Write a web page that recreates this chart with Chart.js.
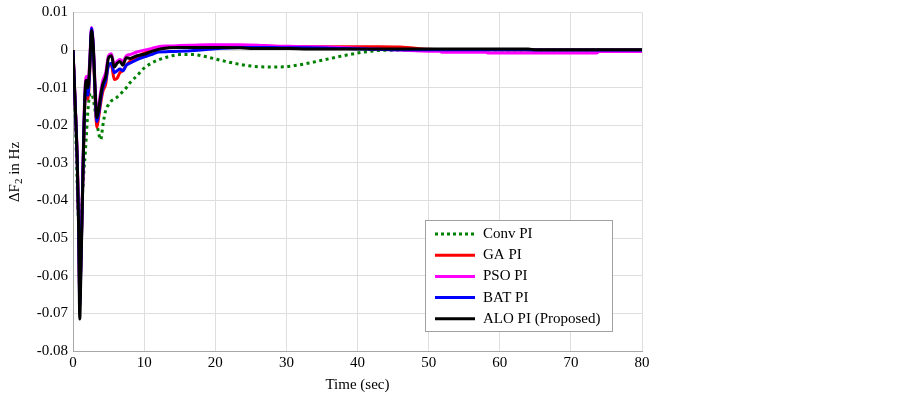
<!DOCTYPE html>
<html>
<head>
<meta charset="utf-8">
<title>Delta F2 response</title>
<script src="https://cdn.jsdelivr.net/npm/chart.js@4.4.0/dist/chart.umd.min.js"></script>
<style>
  html, body { margin: 0; padding: 0; background: #fff; }
  canvas { display: block; }
</style>
</head>
<body>
<canvas id="chart-df2" width="903" height="393"></canvas>
<script>
// time axis (sec) shared by all controllers
const timeSec = [0, 0.3, 0.6, 0.8, 0.95, 1.1, 1.3, 1.5, 1.7, 1.9,
  2.1, 2.35, 2.6, 2.85, 3.1, 3.35, 3.6, 3.9, 4.2, 4.6,
  5, 5.4, 5.8, 6.2, 6.6, 7, 7.5, 8, 9, 10,
  11, 12, 13.5, 15, 17, 19, 21, 23.5, 26, 28,
  30.5, 33, 36, 38.5, 41, 43, 46, 50, 51.5, 52,
  58, 58.5, 64, 65, 73.5, 74, 80];

// deviation of area-2 frequency (Hz)
const convPI = [0, -0.016, -0.036, -0.047, -0.051, -0.047, -0.040, -0.033, -0.028, -0.022,
  -0.016, -0.012, -0.0115, -0.013, -0.016, -0.019, -0.022, -0.0238, -0.020, -0.016,
  -0.0145, -0.0135, -0.013, -0.0125, -0.0118, -0.011, -0.010, -0.0087, -0.0068, -0.0048,
  -0.0035, -0.0026, -0.0017, -0.0012, -0.0012, -0.0019, -0.0028, -0.0038, -0.0044, -0.0045,
  -0.0043, -0.0035, -0.0023, -0.0013, -0.0005, -0.0001, 0, 0, 0, 0,
  0, 0, 0, 0, 0, 0, 0];

const gaPI = [0, -0.014, -0.029, -0.046, -0.066, -0.057, -0.041, -0.025, -0.013, -0.011,
  -0.013, -0.006, 0.0048, 0.0, -0.012, -0.0205, -0.018, -0.014, -0.011, -0.009,
  -0.004, -0.004, -0.0078, -0.0075, -0.006, -0.0055, -0.004, -0.003, -0.0018, -0.0008,
  -0.0002, 0.0004, 0.0007, 0.0009, 0.001, 0.0011, 0.0011, 0.001, 0.001, 0.001,
  0.0009, 0.0009, 0.0009, 0.0009, 0.0009, 0.0009, 0.0008, 0.0002, 0.0001, 0.0001,
  0.0001, 0.0001, 0, 0, 0, 0, 0];

const psoPI = [0, -0.014, -0.029, -0.046, -0.065, -0.056, -0.040, -0.022, -0.010, -0.007,
  -0.009, -0.003, 0.006, 0.0015, -0.009, -0.017, -0.015, -0.011, -0.008, -0.006,
  -0.0015, -0.001, -0.004, -0.003, -0.0025, -0.003, -0.0015, -0.0012, -0.0005, 0.0,
  0.0004, 0.0009, 0.0011, 0.0012, 0.0013, 0.0014, 0.0014, 0.0014, 0.0013, 0.0011,
  0.0010, 0.0009, 0.0008, 0.0006, 0.0004, 0.0002, 0.0, -0.0003, -0.0003, -0.0006,
  -0.0006, -0.0008, -0.0008, -0.0008, -0.0008, -0.0004, -0.0004];

const batPI = [0, -0.014, -0.030, -0.047, -0.068, -0.058, -0.041, -0.024, -0.012, -0.010,
  -0.012, -0.005, 0.0058, 0.0005, -0.011, -0.019, -0.017, -0.013, -0.010, -0.008,
  -0.004, -0.0035, -0.006, -0.0055, -0.005, -0.0055, -0.004, -0.0035, -0.0025, -0.0018,
  -0.0012, -0.0005, -0.0004, -0.0003, -0.0001, 0.0002, 0.0005, 0.0007, 0.0007, 0.0007,
  0.0006, 0.0006, 0.0005, 0.0004, 0.0003, 0.0002, 0.0001, 0.0001, 0.0001, 0.0001,
  0.0001, 0.0001, 0.0001, 0, 0, 0, 0];

const aloPI = [0, -0.014, -0.030, -0.048, -0.0715, -0.060, -0.042, -0.024, -0.011, -0.008,
  -0.010, -0.004, 0.0052, 0.001, -0.010, -0.018, -0.016, -0.012, -0.009, -0.007,
  -0.002, -0.0015, -0.0045, -0.0035, -0.003, -0.004, -0.002, -0.0022, -0.0015, -0.0011,
  -0.0004, 0.0002, 0.0006, 0.0007, 0.0007, 0.0007, 0.0007, 0.0006, 0.0004, 0.0004,
  0.0004, 0.0003, 0.0003, 0.0003, 0.0003, 0.0003, 0.0003, 0.0003, 0.0003, 0.0003,
  0.0003, 0.0003, 0.0003, 0.0001, 0.0001, 0.0001, 0.0001];

const seriesNames = ['Conv PI', 'GA PI', 'PSO PI', 'BAT PI', 'ALO PI (Proposed)'];
const seriesColors = ['#008000', '#ff0000', '#ff00ff', '#0000ff', '#000000'];
const seriesValues = [convPI, gaPI, psoPI, batPI, aloPI];

const serif = "'Liberation Serif', 'Times New Roman', serif";

function toPoints(values) {
  return timeSec.map((t, i) => ({ x: t, y: values[i] }));
}

// legend box + axis titles (subscript in the y title)
const paperDecor = {
  id: 'paperDecor',
  afterDraw(chart) {
    const ctx = chart.ctx;
    const area = chart.chartArea;
    ctx.save();

    // x title
    ctx.fillStyle = '#000';
    ctx.font = '15px ' + serif;
    ctx.textAlign = 'center';
    ctx.textBaseline = 'middle';
    ctx.fillText('Time (sec)', (area.left + area.right) / 2, 385);

    // y title: ΔF2 in Hz
    ctx.save();
    ctx.translate(15, 172);
    ctx.rotate(-Math.PI / 2);
    ctx.textAlign = 'left';
    ctx.textBaseline = 'middle';
    ctx.font = '15px ' + serif;
    const w1 = ctx.measureText('\u0394F').width;
    const w3 = ctx.measureText(' in Hz').width;
    ctx.font = '11px ' + serif;
    const w2 = ctx.measureText('2').width;
    let x0 = -(w1 + w2 + w3) / 2;
    ctx.font = '15px ' + serif;
    ctx.fillText('\u0394F', x0, 0);
    ctx.font = '11px ' + serif;
    ctx.fillText('2', x0 + w1, 4);
    ctx.font = '15px ' + serif;
    ctx.fillText(' in Hz', x0 + w1 + w2, 0);
    ctx.restore();

    // legend
    const box = { x: 425, y: 220, w: 187, h: 111 };
    ctx.fillStyle = '#fff';
    ctx.fillRect(box.x, box.y, box.w, box.h);
    ctx.strokeStyle = '#a0a0a0';
    ctx.lineWidth = 1;
    ctx.strokeRect(box.x + 0.5, box.y + 0.5, box.w, box.h);

    ctx.font = '15px ' + serif;
    ctx.textAlign = 'left';
    ctx.textBaseline = 'middle';
    seriesNames.forEach((name, i) => {
      const y = 234 + i * 21.2;
      ctx.beginPath();
      ctx.strokeStyle = seriesColors[i];
      ctx.lineWidth = 3;
      ctx.setLineDash(i === 0 ? [3, 3] : []);
      ctx.moveTo(435, y);
      ctx.lineTo(475, y);
      ctx.stroke();
      ctx.setLineDash([]);
      ctx.fillStyle = '#000';
      ctx.fillText(name, 483, y);
    });
    ctx.restore();
  }
};

const ctx = document.getElementById('chart-df2').getContext('2d');

new Chart(ctx, {
  type: 'line',
  data: {
    datasets: seriesValues.map((vals, i) => ({
      label: seriesNames[i],
      data: toPoints(vals),
      borderColor: seriesColors[i],
      backgroundColor: seriesColors[i],
      borderWidth: 3,
      borderDash: i === 0 ? [3, 3.5] : [],
      pointRadius: 0,
      fill: false,
      cubicInterpolationMode: 'monotone',
      order: seriesValues.length - i  // black drawn on top
    }))
  },
  options: {
    responsive: false,
    animation: false,
    layout: {
      padding: { top: 8, right: 261, left: 0, bottom: 0 }
    },
    plugins: {
      legend: { display: false },
      tooltip: { enabled: false }
    },
    scales: {
      x: {
        type: 'linear',
        min: 0,
        max: 80,
        ticks: {
          stepSize: 10,
          color: '#000',
          padding: 5,
          maxRotation: 0,
          font: { family: serif, size: 15, lineHeight: 1 }
        },
        grid: { color: '#dedede', drawTicks: false },
        border: { color: '#a8a8a8', width: 1 },
        afterFit: (scale) => { scale.height = 42; }
      },
      y: {
        min: -0.08,
        max: 0.01,
        ticks: {
          stepSize: 0.01,
          color: '#000',
          padding: 5,
          font: { family: serif, size: 15, lineHeight: 1 },
          callback: (v) => Math.abs(v) < 1e-9 ? '0' : Number(v).toFixed(2)
        },
        grid: { color: '#dedede', drawTicks: false },
        border: { color: '#a8a8a8', width: 1 },
        afterFit: (scale) => { scale.width = 73; }
      }
    }
  },
  plugins: [paperDecor]
});
</script>
</body>
</html>
